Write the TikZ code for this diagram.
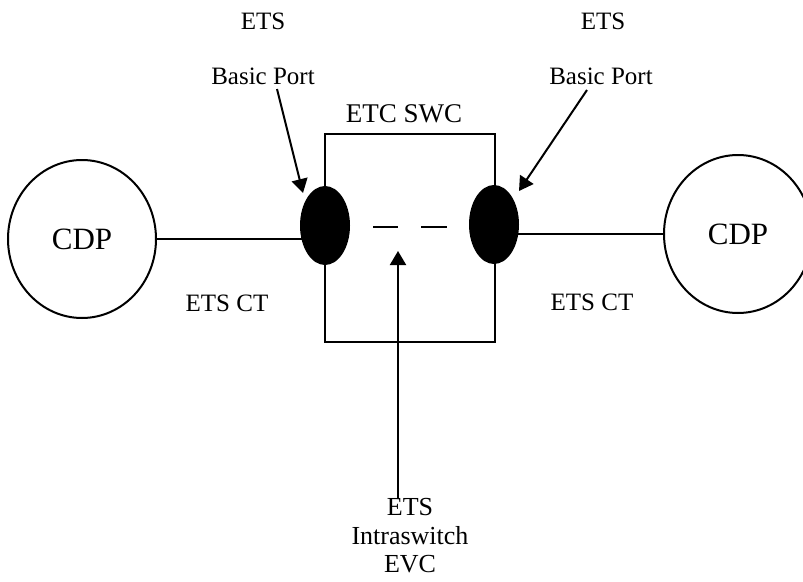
\documentclass[tikz,border=0pt]{standalone}
\usepackage{fontspec}
\setmainfont{Liberation Serif}
\usetikzlibrary{shapes.geometric,arrows.meta}
\begin{document}
\begin{tikzpicture}[x=1pt,y=-1pt,
  lbl/.style={inner sep=0pt,font=\fontsize{25}{30}\selectfont},
  cdp/.style={draw,ellipse,line width=2pt,minimum width=148pt,minimum height=158pt,inner sep=0pt,font=\fontsize{31}{36}\selectfont},
  port/.style={ellipse,fill=black,minimum width=50pt,minimum height=79pt,inner sep=0pt},
  ln/.style={line width=2pt},
  arr/.style={line width=2pt,-{Triangle[length=14pt,width=16pt]}}]
\useasboundingbox (0,0) rectangle (803,581);
% text labels
\node[lbl] (etsL) at (263,21) {ETS};
\node[lbl] (bpL) at (263,76) {Basic Port};
\node[lbl] (etsR) at (603,21) {ETS};
\node[lbl] (bpR) at (601,76) {Basic Port};
\node[lbl,font=\fontsize{27}{32}\selectfont] (swc) at (404,114) {ETC SWC};
\node[lbl] (ctL) at (227,303) {ETS CT};
\node[lbl] (ctR) at (592,302) {ETS CT};
\node[lbl,align=center,font=\fontsize{26}{28.5}\selectfont] (evc) at (410,536) {ETS\\Intraswitch\\EVC};
% box
\draw[ln] (325,342) -- (325,134) -- (495,134) -- (495,342) -- cycle;
% CDPs
\node[cdp] (cdpL) at (82,239) {CDP};
\node[cdp] (cdpR) at (738,234) {CDP};
% connections
\draw[ln] (cdpL.east) -- (310,239);
\draw[ln] (510,234) -- (cdpR.west);
% ports
\node[port] (pL) at (325,225.5) {};
\node[port] (pR) at (494,224.5) {};
% dashes
\coordinate (d1) at (373,227);
\coordinate (d2) at (398,227);
\coordinate (d3) at (421,227);
\coordinate (d4) at (447,227);
\draw[ln] (d1) -- (d2);
\draw[ln] (d3) -- (d4);
% arrows
\coordinate (sL) at (277,89);
\coordinate (tL) at (303,193);
\coordinate (sR) at (587,90);
\coordinate (tR) at (519,191);
\coordinate (sB) at (398,498);
\coordinate (tB) at (398,251);
\draw[arr] (sL) -- (tL);
\draw[arr] (sR) -- (tR);
\draw[arr] (sB) -- (tB);
\end{tikzpicture}
\end{document}
